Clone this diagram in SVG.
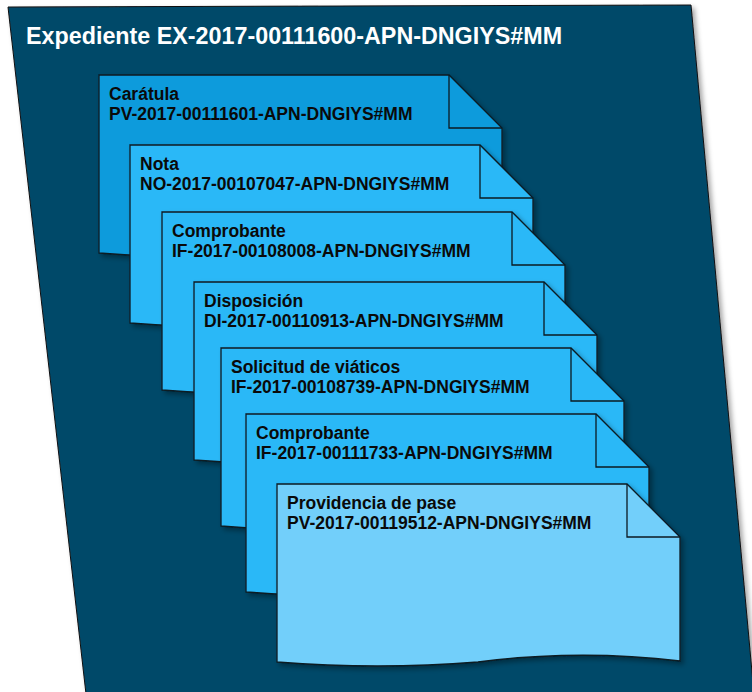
<svg xmlns="http://www.w3.org/2000/svg" xmlns:xlink="http://www.w3.org/1999/xlink" width="752" height="692" viewBox="0 0 752 692">
  <style>
    .bg { fill: #054A69; stroke: #111; stroke-width: 1; }
    .doc { stroke: #0b1a22; stroke-width: 1.3; stroke-linejoin: miter; }
    .fold { fill: none; stroke: #0b1a22; stroke-width: 1.3; }
    .d1 { fill: #0A9BDC; }
    .d2 { fill: #2CB8F7; }
    .d7 { fill: #72CFFA; }
    .title { font-family: "Liberation Sans", Arial, sans-serif; font-weight: bold; font-size: 23.3px; fill: #ffffff; }
    .t { font-family: "Liberation Sans", Arial, sans-serif; font-weight: bold; font-size: 17.5px; fill: #0a0a0a; }
  </style>
  <defs>
    <filter id="sh" x="-10%" y="-10%" width="125%" height="125%">
      <feDropShadow dx="3" dy="3" stdDeviation="2.5" flood-color="#000" flood-opacity="0.35"/>
    </filter>
    <path id="docshape" d="M0,0 H350 L403,53 V177 Q302,165 201,178 Q101,186 0,178 Z"/>
    <path id="foldline" d="M350,0 V53 H403"/>
  </defs>

  <g id="expediente">
    <polygon class="bg" points="8,7 691,5 754,694 86,694" filter="url(#sh)"/>
    <text class="title" x="26" y="44">Expediente EX-2017-00111600-APN-DNGIYS#MM</text>
  </g>

  <g id="connectors"/>

  <g id="doc-caratula" transform="translate(99,75)">
    <use xlink:href="#docshape" class="doc d1" filter="url(#sh)"/>
    <use xlink:href="#foldline" class="fold"/>
    <text class="t" x="10" y="25">Carátula</text>
    <text class="t" x="10" y="44.5">PV-2017-00111601-APN-DNGIYS#MM</text>
  </g>

  <g id="doc-nota" transform="translate(130,145)">
    <use xlink:href="#docshape" class="doc d2" filter="url(#sh)"/>
    <use xlink:href="#foldline" class="fold"/>
    <text class="t" x="10" y="25">Nota</text>
    <text class="t" x="10" y="44.5">NO-2017-00107047-APN-DNGIYS#MM</text>
  </g>

  <g id="doc-comprobante-1" transform="translate(162,212)">
    <use xlink:href="#docshape" class="doc d2" filter="url(#sh)"/>
    <use xlink:href="#foldline" class="fold"/>
    <text class="t" x="10" y="25">Comprobante</text>
    <text class="t" x="10" y="44.5">IF-2017-00108008-APN-DNGIYS#MM</text>
  </g>

  <g id="doc-disposicion" transform="translate(194,282)">
    <use xlink:href="#docshape" class="doc d2" filter="url(#sh)"/>
    <use xlink:href="#foldline" class="fold"/>
    <text class="t" x="10" y="25">Disposición</text>
    <text class="t" x="10" y="44.5">DI-2017-00110913-APN-DNGIYS#MM</text>
  </g>

  <g id="doc-solicitud" transform="translate(221,348)">
    <use xlink:href="#docshape" class="doc d2" filter="url(#sh)"/>
    <use xlink:href="#foldline" class="fold"/>
    <text class="t" x="10" y="25">Solicitud de viáticos</text>
    <text class="t" x="10" y="44.5">IF-2017-00108739-APN-DNGIYS#MM</text>
  </g>

  <g id="doc-comprobante-2" transform="translate(246,414)">
    <use xlink:href="#docshape" class="doc d2" filter="url(#sh)"/>
    <use xlink:href="#foldline" class="fold"/>
    <text class="t" x="10" y="25">Comprobante</text>
    <text class="t" x="10" y="44.5">IF-2017-00111733-APN-DNGIYS#MM</text>
  </g>

  <g id="doc-providencia" transform="translate(277,484)">
    <use xlink:href="#docshape" class="doc d7" filter="url(#sh)"/>
    <use xlink:href="#foldline" class="fold"/>
    <text class="t" x="10" y="25">Providencia de pase</text>
    <text class="t" x="10" y="44.5">PV-2017-00119512-APN-DNGIYS#MM</text>
  </g>
</svg>
